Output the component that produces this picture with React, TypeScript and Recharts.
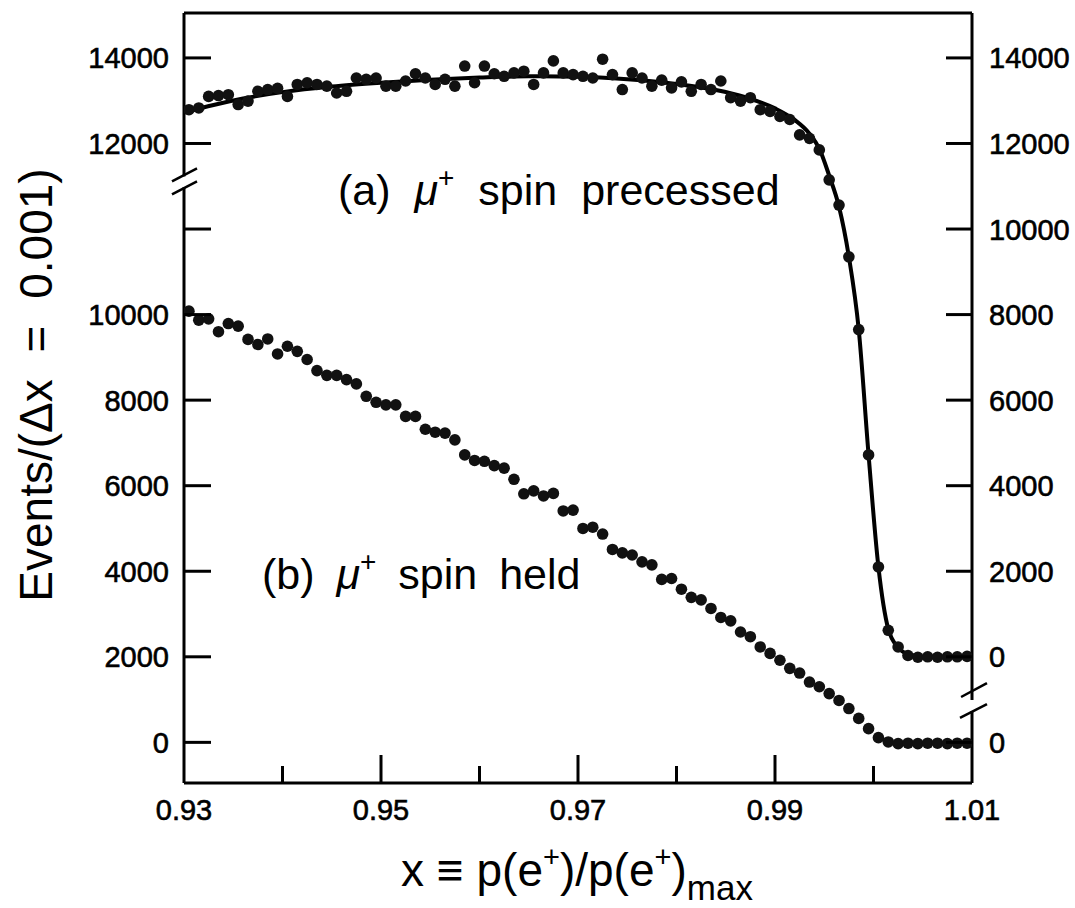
import { ComposedChart, Scatter, Line, XAxis, YAxis, ReferenceLine } from 'recharts';

// bin centres, dx = 0.001
const binX = [
  0.9305, 0.9315, 0.9325, 0.9335, 0.9345, 0.9355, 0.9365, 0.9375, 0.9385, 0.9395,
  0.9405, 0.9415, 0.9425, 0.9435, 0.9445, 0.9455, 0.9465, 0.9475, 0.9485, 0.9495,
  0.9505, 0.9515, 0.9525, 0.9535, 0.9545, 0.9555, 0.9565, 0.9575, 0.9585, 0.9595,
  0.9605, 0.9615, 0.9625, 0.9635, 0.9645, 0.9655, 0.9665, 0.9675, 0.9685, 0.9695,
  0.9705, 0.9715, 0.9725, 0.9735, 0.9745, 0.9755, 0.9765, 0.9775, 0.9785, 0.9795,
  0.9805, 0.9815, 0.9825, 0.9835, 0.9845, 0.9855, 0.9865, 0.9875, 0.9885, 0.9895,
  0.9905, 0.9915, 0.9925, 0.9935, 0.9945, 0.9955, 0.9965, 0.9975, 0.9985, 0.9995,
  1.0005, 1.0015, 1.0025, 1.0035, 1.0045, 1.0055, 1.0065, 1.0075, 1.0085, 1.0095,
];

// (a) mu+ spin precessed, read on the right axis
const precessed = [
  12790, 12830, 13100, 13120, 13140, 12910, 12990, 13220, 13260, 13290,
  13100, 13380, 13420, 13380, 13340, 13180, 13220, 13530, 13500, 13530,
  13340, 13340, 13460, 13630, 13530, 13380, 13500, 13340, 13810, 13420,
  13810, 13630, 13570, 13650, 13690, 13380, 13650, 13930, 13650, 13610,
  13570, 13530, 13970, 13610, 13260, 13650, 13530, 13340, 13480, 13300,
  13440, 13220, 13380, 13260, 13460, 13070, 12990, 13070, 12790, 12750,
  12630, 12560, 12200, 12120, 11850, 11150, 10560, 9350, 7650, 4720,
  2100, 620, 230, 30, -10, 0, -10, 0, 0, 10,
];

// (b) mu+ spin held, read on the left axis
const held = [
  10080, 9870, 9900, 9600, 9790, 9730, 9420, 9300, 9430, 9080,
  9260, 9140, 8950, 8690, 8580, 8580, 8480, 8380, 8090, 7950,
  7890, 7890, 7620, 7620, 7320, 7250, 7230, 7070, 6720, 6590,
  6570, 6470, 6410, 6150, 5810, 5880, 5760, 5820, 5410, 5430,
  5000, 5030, 4870, 4510, 4430, 4380, 4220, 4150, 3810, 3830,
  3580, 3390, 3330, 3130, 2920, 2840, 2580, 2470, 2230, 2080,
  1920, 1730, 1620, 1410, 1300, 1140, 980, 790, 560, 320,
  110, 10, -30, -20, -30, -20, -20, -30, -20, -20,
];

// fitted curve through (a)
const fitX = [
  0.930, 0.933, 0.936, 0.940, 0.945, 0.950, 0.955, 0.960, 0.965, 0.970,
  0.975, 0.980, 0.984, 0.987, 0.990, 0.992, 0.9935, 0.9945, 0.9955, 0.9965,
  0.9975, 0.9985, 0.9995, 1.0005, 1.0015, 1.0025, 1.0035, 1.005, 1.010,
];
const fitY = [
  12720, 12900, 13050, 13200, 13330, 13420, 13490, 13540, 13570, 13560,
  13500, 13390, 13250, 13080, 12820, 12550, 12230, 11880, 11250, 10520,
  9350, 7650, 4720, 2100, 650, 220, 60, 0, 0,
];

const xTicks = [0.93, 0.94, 0.95, 0.96, 0.97, 0.98, 0.99, 1.0, 1.01];
const xTickLabels = ['0.93', '', '0.95', '', '0.97', '', '0.99', '', '1.01'];
const yTicks = [0, 2000, 4000, 6000, 8000, 10000, 12000, 14000, 16000];
const leftTickLabels = ['0', '2000', '4000', '6000', '8000', '10000', '', '12000', '14000'];
const rightTickLabels = ['0', '0', '2000', '4000', '6000', '8000', '10000', '12000', '14000'];

// curve (a) sits 2000 higher than its own counts (broken axis)
const SHIFT_A = 2000;
const Y_MIN = -950;
const Y_MAX = 17050;
const X_MIN = 0.93;
const X_MAX = 1.01;

const FONT = '"Liberation Sans", Arial, Helvetica, sans-serif';
const TICK_FONT = 29;

const heldData = binX.map((x, i) => ({ x, y: held[i] }));
const precessedData = binX.map((x, i) => ({ x, y: precessed[i] + SHIFT_A }));
const fitData = fitX.map((x, i) => ({ x, y: fitY[i] + SHIFT_A }));

const tickIndex = (list: number[], v: number) => list.findIndex((t) => Math.abs(t - v) < 1e-6);

const labelStyle = { fontSize: TICK_FONT, fontFamily: FONT, fill: '#000', stroke: '#000', strokeWidth: 0.6 };

function BottomTick(props: any) {
  const { x, y, payload } = props;
  const i = tickIndex(xTicks, payload.value);
  const edge = i === 0 || i === xTicks.length - 1;
  return (
    <g>
      {!edge && <line x1={x} y1={y} x2={x} y2={y - (i % 2 === 0 ? 28 : 17)} stroke="#000" strokeWidth={3} />}
      {xTickLabels[i] && (
        <text x={x} y={y + 37} textAnchor="middle" style={labelStyle}>
          {xTickLabels[i]}
        </text>
      )}
    </g>
  );
}

function TopTick(props: any) {
  const { x, y, payload } = props;
  const i = tickIndex(xTicks, payload.value);
  if (i === 0 || i === xTicks.length - 1) return <g />;
  return <line x1={x} y1={y} x2={x} y2={y + (i % 2 === 0 ? 28 : 17)} stroke="#000" strokeWidth={3} />;
}

function LeftTick(props: any) {
  const { x, y, payload } = props;
  const i = tickIndex(yTicks, payload.value);
  return (
    <g>
      <line x1={x} y1={y} x2={x + 27} y2={y} stroke="#000" strokeWidth={3} />
      <text x={x - 15} y={y + 10.5} textAnchor="end" style={labelStyle}>
        {leftTickLabels[i]}
      </text>
    </g>
  );
}

function RightTick(props: any) {
  const { x, y, payload } = props;
  const i = tickIndex(yTicks, payload.value);
  return (
    <g>
      <line x1={x} y1={y} x2={x - 26} y2={y} stroke="#000" strokeWidth={3} />
      <text x={x + 17} y={y + 10.5} textAnchor="start" style={labelStyle}>
        {rightTickLabels[i]}
      </text>
    </g>
  );
}

const Dot = (p: any) => <circle cx={p.cx} cy={p.cy} r={5.8} fill="#111" />;

// axis break: gap in the frame and the two slashes
const leftGap = [12975, 13230];
const rightGap = [730, 990];
const slashes = [
  [{ x: 0.92878, y: 13115 }, { x: 0.93132, y: 13420 }],
  [{ x: 0.92878, y: 12810 }, { x: 0.93132, y: 13115 }],
  [{ x: 1.00889, y: 1060 }, { x: 1.01152, y: 1385 }],
  [{ x: 1.00878, y: 570 }, { x: 1.01152, y: 895 }],
];
const frameSegments = [
  [{ x: X_MIN, y: Y_MIN }, { x: X_MIN, y: leftGap[0] }],
  [{ x: X_MIN, y: leftGap[1] }, { x: X_MIN, y: Y_MAX }],
  [{ x: X_MAX, y: Y_MIN }, { x: X_MAX, y: rightGap[0] }],
  [{ x: X_MAX, y: rightGap[1] }, { x: X_MAX, y: Y_MAX }],
];

export default function App() {
  return (
    <div style={{ position: 'absolute', left: 0, top: 0, width: 1075, height: 908, background: '#fff' }}>
      <ComposedChart width={1075} height={908} margin={{ top: 0, right: 0, bottom: 0, left: 0 }}>
        <XAxis
          xAxisId="b"
          dataKey="x"
          type="number"
          domain={[X_MIN, X_MAX]}
          ticks={xTicks}
          interval={0}
          allowDataOverflow
          height={125}
          axisLine={{ stroke: '#000', strokeWidth: 3 }}
          tickLine={false}
          tickSize={0}
          tickMargin={0}
          tick={(p: any) => <BottomTick {...p} />}
        />
        <XAxis
          xAxisId="t"
          orientation="top"
          type="number"
          domain={[X_MIN, X_MAX]}
          ticks={xTicks}
          interval={0}
          allowDataOverflow
          height={13}
          axisLine={{ stroke: '#000', strokeWidth: 3 }}
          tickLine={false}
          tickSize={0}
          tickMargin={0}
          tick={(p: any) => <TopTick {...p} />}
        />
        <YAxis
          yAxisId="l"
          dataKey="y"
          type="number"
          domain={[Y_MIN, Y_MAX]}
          ticks={yTicks}
          interval={0}
          allowDataOverflow
          width={184}
          axisLine={false}
          tickLine={false}
          tickSize={0}
          tickMargin={0}
          tick={(p: any) => <LeftTick {...p} />}
        />
        <YAxis
          yAxisId="r"
          orientation="right"
          type="number"
          domain={[Y_MIN, Y_MAX]}
          ticks={yTicks}
          interval={0}
          allowDataOverflow
          width={103}
          axisLine={false}
          tickLine={false}
          tickSize={0}
          tickMargin={0}
          tick={(p: any) => <RightTick {...p} />}
        />
        {frameSegments.map((s, i) => (
          <ReferenceLine key={`f${i}`} xAxisId="b" yAxisId="l" segment={s} stroke="#000" strokeWidth={3} ifOverflow="visible" />
        ))}
        {slashes.map((s, i) => (
          <ReferenceLine key={`s${i}`} xAxisId="b" yAxisId="l" segment={s} stroke="#000" strokeWidth={2.5} ifOverflow="visible" />
        ))}
        <Scatter xAxisId="b" yAxisId="l" data={heldData} dataKey="y" shape={Dot} isAnimationActive={false} />
        <Scatter xAxisId="b" yAxisId="l" data={precessedData} dataKey="y" shape={Dot} isAnimationActive={false} />
        <Line
          xAxisId="b"
          yAxisId="l"
          data={fitData}
          dataKey="y"
          type="monotone"
          stroke="#000"
          strokeWidth={4}
          dot={false}
          activeDot={false}
          isAnimationActive={false}
        />
      </ComposedChart>
      <svg width={1075} height={908} style={{ position: 'absolute', left: 0, top: 0, pointerEvents: 'none' }} fontFamily={FONT}>
        <text transform="translate(52,385) rotate(-90)" textAnchor="middle" fontSize={46} fill="#000" wordSpacing={14}>
          Events/(Δx = 0.001)
        </text>
        <text x={577} y={886} textAnchor="middle" fontSize={46} fill="#000">
          x ≡ p(e<tspan dy={-19} fontSize={29}>+</tspan>
          <tspan dy={19}>)/p(e</tspan>
          <tspan dy={-19} fontSize={29}>+</tspan>
          <tspan dy={19}>)</tspan>
          <tspan dy={14} fontSize={35}>max</tspan>
        </text>
        <text x={338} y={205} fontSize={43} fill="#000" wordSpacing={12}>
          (a) <tspan fontStyle="italic">μ</tspan>
          <tspan dy={-18} fontSize={28}>+</tspan>
          <tspan dy={18}> spin precessed</tspan>
        </text>
        <text x={262} y={589} fontSize={43} fill="#000" wordSpacing={10}>
          (b) <tspan fontStyle="italic">μ</tspan>
          <tspan dy={-18} fontSize={28}>+</tspan>
          <tspan dy={18}> spin held</tspan>
        </text>
      </svg>
    </div>
  );
}
